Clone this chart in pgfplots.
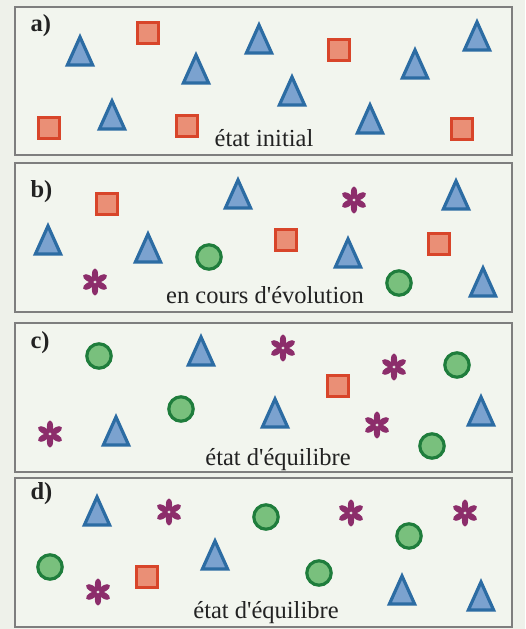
\documentclass[border=0pt]{standalone}
\usepackage{fontspec}
\setmainfont{Liberation Serif}
\usepackage{pgfplots}
\pgfplotsset{compat=1.18}
\definecolor{triEdge}{HTML}{2C6CA3}
\definecolor{triFill}{HTML}{7BA2CF}
\definecolor{sqEdge}{HTML}{D8452A}
\definecolor{sqFill}{HTML}{EA8F76}
\definecolor{cEdge}{HTML}{1F7D3C}
\definecolor{cFill}{HTML}{79C07D}
\definecolor{astC}{HTML}{8C2D6B}
\definecolor{panelbg}{HTML}{F2F5EE}
\definecolor{pagebg}{HTML}{EEF1EA}
\definecolor{frameC}{HTML}{7E7E7E}
\definecolor{txt}{HTML}{222222}

\pgfdeclareplotmark{tri}{%
  \pgfpathmoveto{\pgfpoint{0pt}{13pt}}%
  \pgfpathlineto{\pgfpoint{-12.6pt}{-15pt}}%
  \pgfpathlineto{\pgfpoint{12.6pt}{-15pt}}%
  \pgfpathclose
  \pgfusepathqfillstroke}
\pgfdeclareplotmark{sq}{%
  \pgfpathrectangle{\pgfpoint{-10.8pt}{-10.8pt}}{\pgfpoint{21.6pt}{21.6pt}}%
  \pgfusepathqfillstroke}
\pgfdeclareplotmark{circ}{%
  \pgfpathcircle{\pgfpoint{0pt}{0pt}}{12.2pt}%
  \pgfusepathqfillstroke}
\pgfdeclareplotmark{ast}{%
  \foreach \a in {30,90,150,210,270,330}{%
    \pgfpathellipse{\pgfpointpolar{\a}{7.3pt}}{\pgfpointpolar{\a}{6.3pt}}{\pgfpointpolar{\a+90}{3.1pt}}}%
  \pgfusepathqfill}

\pgfplotsset{
  panel/.style={x=1pt,y=1pt,xmin=15,xmax=512,
    xtick=\empty,ytick=\empty,clip=false,
    axis line style={draw=frameC,line width=1.4pt},
    axis background/.style={fill=panelbg},
    anchor=north west},
  T/.style={only marks,mark=tri,mark options={draw=triEdge,fill=triFill,line width=3.2pt,line join=miter}},
  S/.style={only marks,mark=sq,mark options={draw=sqEdge,fill=sqFill,line width=2.8pt}},
  C/.style={only marks,mark=circ,mark options={draw=cEdge,fill=cFill,line width=3.2pt}},
  A/.style={only marks,mark=ast,mark options={fill=astC,draw=none}},
}
\newcommand{\lab}{\fontsize{24.5}{28}\selectfont}

\begin{document}
\begin{tikzpicture}
\useasboundingbox (0,0) rectangle (525pt,-629pt);
\fill[pagebg] (0,0) rectangle (525pt,-629pt);

% panel a
\begin{axis}[panel,at={(15pt,-7pt)},ymin=-155,ymax=-7]
\addplot[T] coordinates {(80,-50) (196,-68) (259,-38) (292,-90) (415,-63) (477,-35) (112,-114) (370,-118)};
\addplot[S] coordinates {(148,-33) (339,-50) (49,-128) (187,-126) (462,-129)};
\node[anchor=base west,font=\lab\bfseries,text=txt] at (axis cs:27,-31) {a)};
\node[anchor=base,font=\lab,text=txt] at (axis cs:264,-146) {état initial};
\end{axis}

% panel b
\begin{axis}[panel,at={(15pt,-163pt)},ymin=-312,ymax=-163]
\addplot[T] coordinates {(238,-193) (456,-194) (48,-239) (148,-247) (348,-252) (483,-281)};
\addplot[S] coordinates {(107,-204) (286,-240) (439,-244)};
\addplot[C] coordinates {(209,-257) (399,-283)};
\addplot[A] coordinates {(354,-200) (95,-282)};
\node[anchor=base west,font=\lab\bfseries,text=txt] at (axis cs:27,-197) {b)};
\node[anchor=base,font=\lab,text=txt] at (axis cs:265,-303) {en cours d\textquotesingle évolution};
\end{axis}

% panel c
\begin{axis}[panel,at={(15pt,-323pt)},ymin=-472,ymax=-323]
\addplot[T] coordinates {(201,-350) (275,-412) (116,-430) (481,-410)};
\addplot[S] coordinates {(338,-386)};
\addplot[C] coordinates {(99,-356) (457,-365) (181,-409) (432,-446)};
\addplot[A] coordinates {(283,-348) (394,-367) (377,-425) (50,-434)};
\node[anchor=base west,font=\lab\bfseries,text=txt] at (axis cs:27,-348) {c)};
\node[anchor=base,font=\lab,text=txt] at (axis cs:278,-465) {état d\textquotesingle équilibre};
\end{axis}

% panel d
\begin{axis}[panel,at={(15pt,-478pt)},ymin=-627,ymax=-478]
\addplot[T] coordinates {(97,-510) (215,-554) (402,-589) (481,-595)};
\addplot[S] coordinates {(147,-577)};
\addplot[C] coordinates {(266,-517) (409,-536) (50,-567) (319,-573)};
\addplot[A] coordinates {(169,-512) (351,-513) (465,-513) (98,-592)};
\node[anchor=base west,font=\lab\bfseries,text=txt] at (axis cs:27,-499) {d)};
\node[anchor=base,font=\lab,text=txt] at (axis cs:266,-618) {état d\textquotesingle équilibre};
\end{axis}
\end{tikzpicture}
\end{document}
